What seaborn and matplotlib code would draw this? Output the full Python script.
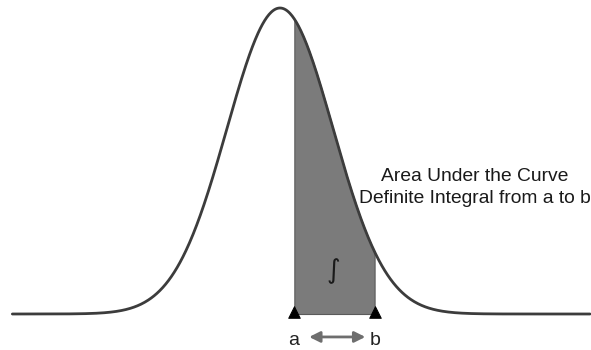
import numpy as np
import matplotlib
matplotlib.use("Agg")
import matplotlib.pyplot as plt
import seaborn as sns

# Normal curve and the integration interval
curve_mean = 0.0
curve_sd = 1.0
x_start, x_end = -5.05, 5.85
a_bound = 0.26
b_bound = 1.79

title_lines = ["Area Under the Curve", "Definite Integral from a to b"]
bound_labels = ["a", "b"]

sns.set_style("white")
plt.rcParams["font.family"] = ["Liberation Sans", "DejaVu Sans"]

fig = plt.figure(figsize=(5.91, 3.5), dpi=100)
ax = fig.add_axes([0, 0, 1, 1])

xs = np.linspace(x_start, x_end, 800)
ys = np.exp(-0.5 * ((xs - curve_mean) / curve_sd) ** 2)

# shaded area between a and b
mask = (xs >= a_bound) & (xs <= b_bound)
ax.fill_between(xs[mask], 0, ys[mask], color="#7b7b7b", edgecolor="#5a5a5a",
                linewidth=0.8, zorder=1)

sns.lineplot(x=xs, y=ys, ax=ax, color="#3c3c3c", linewidth=2.0, zorder=3)

# bound markers
sns.scatterplot(x=[a_bound, b_bound], y=[0.006, 0.006], ax=ax, marker="^",
                s=70, color="black", edgecolor="black", zorder=4, legend=False)

ax.set_xlim(-280 / 53, 311 / 53)
ax.set_ylim(-36 / 306, 314 / 306)
ax.axis("off")

# integral sign inside the shaded region
ax.text(0.5 * (a_bound + b_bound) - 0.02, 0.14, "\u222b", fontsize=19,
        ha="center", va="center", color="#1a1a1a", family=["DejaVu Sans"],
        zorder=5)

# labels a and b under the axis
for val, lab in zip([a_bound, b_bound], bound_labels):
    ax.text(val, -0.10, lab, fontsize=14, ha="center", va="baseline",
            color="#222222")

ax.annotate("", xy=(1.61, -0.075), xytext=(0.55, -0.075),
            arrowprops=dict(arrowstyle="<|-|>", color="#6e6e6e", lw=2.0,
                            mutation_scale=16, shrinkA=0, shrinkB=0))

# annotation text on the right
fig.text(475 / 591, 1 - 181 / 350, title_lines[0], fontsize=13.9,
         ha="center", va="baseline", color="#1a1a1a")
fig.text(475 / 591, 1 - 203 / 350, title_lines[1], fontsize=13.9,
         ha="center", va="baseline", color="#1a1a1a")

fig.savefig("out.png", dpi=100)
